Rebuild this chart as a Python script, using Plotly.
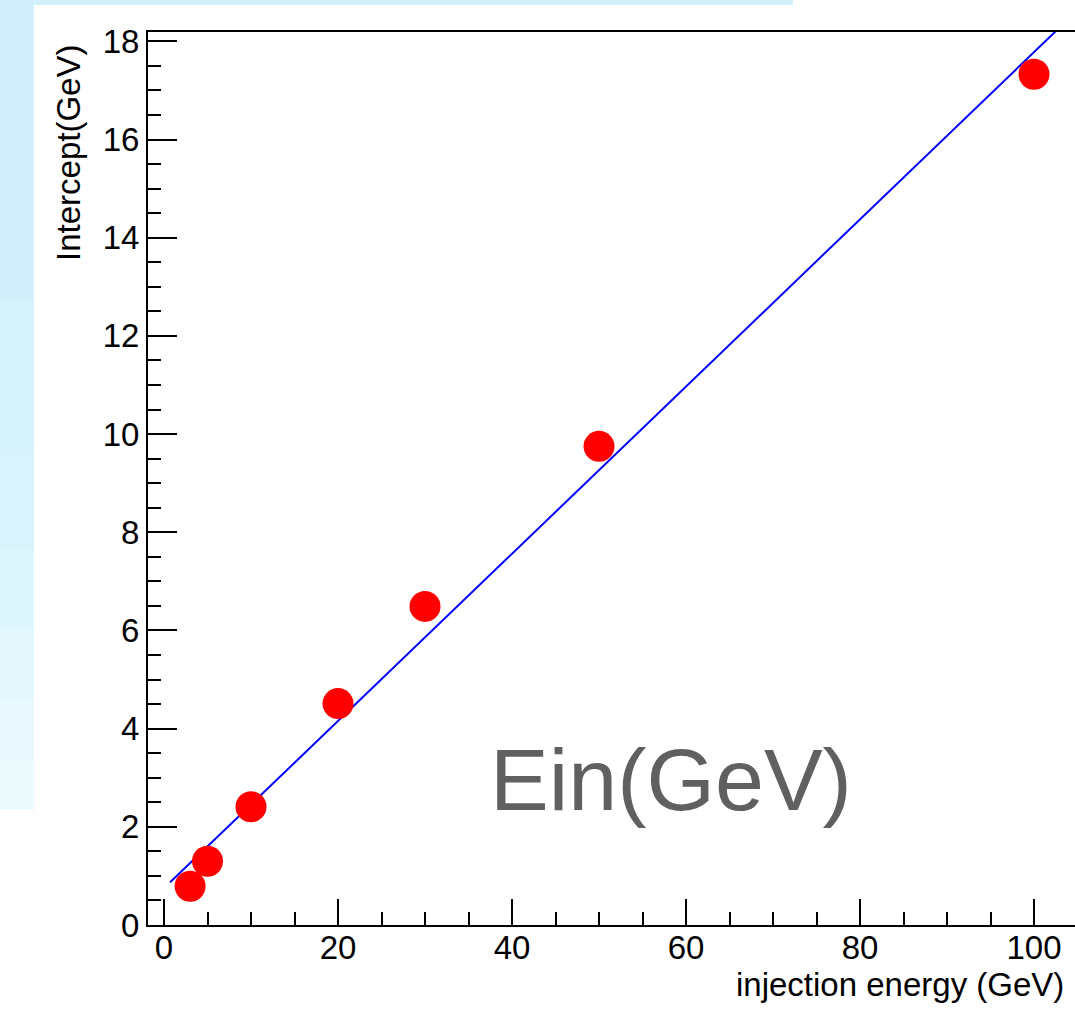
import plotly.graph_objects as go

# ---- data ----
energy = [3, 5, 10, 20, 30, 50, 100]
intercept = [0.79, 1.30, 2.41, 4.51, 6.49, 9.75, 17.33]
fit_slope = 0.1703
fit_intercept = 0.75
fit_x = [0.7, 104.7]
fit_y = [fit_intercept + fit_slope * v for v in fit_x]

x_title = "injection energy (GeV)"
y_title = "Intercept(GeV)"
overlay_text = "Ein(GeV)"

W, H = 1075, 1010
ML, MR, MT, MB = 148, 0, 32, 85
PW, PH = W - ML - MR, H - MT - MB


def px(xp):
    return (xp - ML) / PW


def py(yp):
    return (H - MB - yp) / PH


fig = go.Figure()
fig.add_trace(go.Scatter(x=fit_x, y=fit_y, mode="lines",
                         line=dict(color="#0000ff", width=2),
                         showlegend=False, hoverinfo="skip"))
fig.add_trace(go.Scatter(x=energy, y=intercept, mode="markers",
                         marker=dict(color="#ff0000", size=31, line=dict(width=0)),
                         showlegend=False))

font = "Liberation Sans, Arial, Helvetica, sans-serif"
FS = 33

fig.update_layout(
    width=W, height=H,
    margin=dict(l=ML, r=MR, t=MT, b=MB, pad=0),
    paper_bgcolor="white", plot_bgcolor="white",
    font=dict(family=font, size=FS, color="black"),
    xaxis=dict(range=[-1.84, 104.71], showgrid=False, zeroline=False,
               showline=True, linecolor="black", linewidth=2, mirror=True,
               ticks="inside", ticklen=26, tickwidth=2, tickcolor="black",
               tick0=0, dtick=20, ticklabelstandoff=-8,
               tickfont=dict(family=font, size=FS, color="black"),
               minor=dict(dtick=5, tick0=0, ticks="inside", ticklen=13,
                          tickwidth=2, tickcolor="black", showgrid=False)),
    yaxis=dict(range=[0, 18.19], showgrid=False, zeroline=False,
               showline=True, linecolor="black", linewidth=2, mirror=False,
               ticks="inside", ticklen=29, tickwidth=2, tickcolor="black",
               tick0=0, dtick=2, ticklabelstandoff=0,
               tickfont=dict(family=font, size=FS, color="black"),
               minor=dict(dtick=0.5, tick0=0, ticks="inside", ticklen=13,
                          tickwidth=2, tickcolor="black", showgrid=False)),
)

# slide background (light blue strips)
bands = [(5, 300, "#d2f0fc"), (300, 450, "#d5f2fc"), (450, 550, "#d9f3fc"),
         (550, 630, "#ddf5fd"), (630, 700, "#e3f7fd"), (700, 760, "#e9f9fe"),
         (760, 810, "#eefbfe")]
shapes = [dict(type="rect", xref="paper", yref="paper", x0=px(0), x1=px(793),
               y0=py(5), y1=py(0), fillcolor="#d2f0fc", line=dict(width=0), layer="below")]
for y0, y1, c in bands:
    shapes.append(dict(type="rect", xref="paper", yref="paper", x0=px(0), x1=px(34),
                       y0=py(y1), y1=py(y0), fillcolor=c, line=dict(width=0), layer="below"))
fig.update_layout(shapes=shapes)

fig.add_annotation(text=y_title, xref="paper", yref="paper", x=px(69), y=py(43),
                   xanchor="center", yanchor="top", textangle=-90, showarrow=False,
                   font=dict(family=font, size=FS, color="black"))
fig.add_annotation(text=x_title, xref="paper", yref="paper", x=px(1066), y=py(984),
                   xanchor="right", yanchor="middle", showarrow=False,
                   font=dict(family=font, size=FS, color="black"))
fig.add_annotation(text=overlay_text, xref="paper", yref="paper", x=px(671), y=py(779),
                   xanchor="center", yanchor="middle", showarrow=False,
                   font=dict(family=font, size=88, color="#606060"))

fig.write_html("out.html")
